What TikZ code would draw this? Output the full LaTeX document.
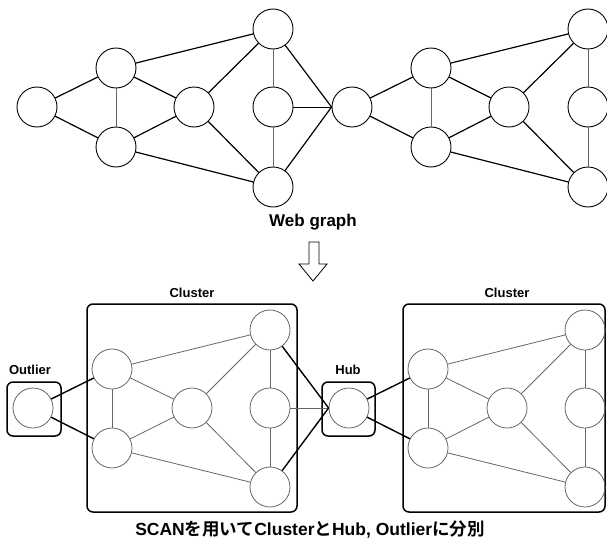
\documentclass[tikz,border=0pt]{standalone}
\usepackage{fontspec}
\setmainfont{Liberation Sans}
\newfontfamily\cjk{Noto Sans CJK JP}[BoldFont={* Bold}]

\begin{document}
\begin{tikzpicture}[x=1pt,y=-1pt,
 vertex/.style ={circle,draw=black,line width=.9pt,minimum size=40pt,inner sep=0pt},
 member/.style ={circle,draw=black!60,line width=.8pt,minimum size=40pt,inner sep=0pt},
 link/.style ={-,draw=black,line width=1.2pt},
 inner/.style ={-,draw=black!60,line width=.8pt},
 cross/.style ={-,draw=black,line width=1.4pt},
 group/.style ={draw=black,line width=1.5pt,rounded corners=6pt},
 caption/.style ={font=\bfseries\fontsize{13}{13}\selectfont}
 ]
\useasboundingbox (0,0) rectangle (607,551);
%draw web graph nodes
\node[vertex] (a1) at (37,107) {};
\node[vertex] (a2) at (116,68) {};
\node[vertex] (a3) at (116,147) {};
\node[vertex] (a4) at (194,107) {};
\node[vertex] (a5) at (273,29) {};
\node[vertex] (a6) at (273,107) {};
\node[vertex] (a7) at (273,187) {};
\node[vertex] (h) at (352,107) {};
\node[vertex] (b2) at (431,68) {};
\node[vertex] (b3) at (431,147) {};
\node[vertex] (b4) at (509,107) {};
\node[vertex] (b5) at (588,29) {};
\node[vertex] (b6) at (588,107) {};
\node[vertex] (b7) at (588,187) {};
%draw web graph edges
\draw[link] (a1) -- (a2);
\draw[link] (a1) -- (a3);
\draw[inner] (a2) -- (a3);
\draw[link] (a2) -- (a4);
\draw[link] (a3) -- (a4);
\draw[link] (a2) -- (a5);
\draw[link] (a3) -- (a7);
\draw[link] (a4) -- (a5);
\draw[link] (a4) -- (a7);
\draw[inner] (a5) -- (a6);
\draw[inner] (a6) -- (a7);
\draw[link] (a5) -- (h.west);
\draw[inner,draw=black] (a6) -- (h.west);
\draw[link] (a7) -- (h.west);
\draw[link] (h) -- (b2);
\draw[link] (h) -- (b3);
\draw[inner] (b2) -- (b3);
\draw[link] (b2) -- (b4);
\draw[link] (b3) -- (b4);
\draw[link] (b2) -- (b5);
\draw[link] (b3) -- (b7);
\draw[link] (b4) -- (b5);
\draw[link] (b4) -- (b7);
\draw[inner] (b5) -- (b6);
\draw[inner] (b6) -- (b7);
\node[font=\bfseries\fontsize{17}{17}\selectfont] (web) at (313,222) {Web graph};
%draw arrow
\draw[line width=.8pt] (309,242) -- (319,242) -- (319,264) -- (327,264) -- (313,281)
 -- (299,264) -- (309,264) -- cycle;
%draw groups
\draw[group] (7,382) rectangle (61,436);
\draw[group] (87,304) rectangle (297,512);
\draw[group] (322,382) rectangle (375,436);
\draw[group] (403,304) rectangle (605,512);
\node[caption] (outl) at (30,370) {Outlier};
\node[caption] (cl1) at (192,293) {Cluster};
\node[caption] (hubl) at (348,370) {Hub};
\node[caption] (cl2) at (507,293) {Cluster};
%draw clustered nodes
\node[member] (o) at (33,408) {};
\node[member] (c2) at (112,369) {};
\node[member] (c3) at (112,448) {};
\node[member] (c4) at (192,408) {};
\node[member] (c5) at (270,330) {};
\node[member] (c6) at (270,408) {};
\node[member] (c7) at (270,487) {};
\node[member] (hb) at (349,408) {};
\node[member] (d2) at (428,369) {};
\node[member] (d3) at (428,448) {};
\node[member] (d4) at (507,408) {};
\node[member] (d5) at (585,330) {};
\node[member] (d6) at (585,408) {};
\node[member] (d7) at (585,487) {};
%draw clustered edges
\draw[cross] (o) -- (c2);
\draw[cross] (o) -- (c3);
\draw[inner] (c2) -- (c3);
\draw[inner] (c2) -- (c4);
\draw[inner] (c3) -- (c4);
\draw[inner] (c2) -- (c5);
\draw[inner] (c3) -- (c7);
\draw[inner] (c4) -- (c5);
\draw[inner] (c4) -- (c7);
\draw[inner] (c5) -- (c6);
\draw[inner] (c6) -- (c7);
\draw[cross] (c5) -- (hb.west);
\draw[inner] (c6) -- (hb.west);
\draw[cross] (c7) -- (hb.west);
\draw[cross] (hb) -- (d2);
\draw[cross] (hb) -- (d3);
\draw[inner] (d2) -- (d3);
\draw[inner] (d2) -- (d4);
\draw[inner] (d3) -- (d4);
\draw[inner] (d2) -- (d5);
\draw[inner] (d3) -- (d7);
\draw[inner] (d4) -- (d5);
\draw[inner] (d4) -- (d7);
\draw[inner] (d5) -- (d6);
\draw[inner] (d6) -- (d7);
\node[font=\bfseries\fontsize{17.5}{17.5}\selectfont] (res) at (310,530)
 {SCAN{\cjk を用いて}Cluster{\cjk と}Hub, Outlier{\cjk に分別}};
\end{tikzpicture}
\end{document}
